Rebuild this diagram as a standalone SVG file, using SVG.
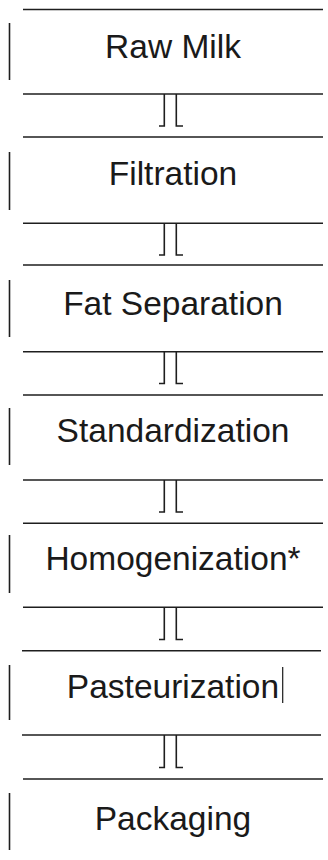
<svg xmlns="http://www.w3.org/2000/svg" width="328" height="860" viewBox="0 0 328 860">
<style>
.bg{fill:#ffffff}
.hl{stroke:#1e1e1e;stroke-width:1.5;fill:none}
.bar{stroke:#1e1e1e;stroke-width:1.6;fill:none}
.lbl{font-family:"Liberation Sans",Arial,sans-serif;font-size:33.5px;fill:#1a1a1a;text-anchor:middle}
.con{stroke:#1e1e1e;stroke-width:1.6;fill:none}
.cur{stroke:#1a1a1a;stroke-width:1.2}
</style>
<rect class="bg" x="0" y="0" width="328" height="860"/>
<g id="node-raw-milk">
<line class="hl" x1="23" y1="9.5" x2="323" y2="9.5"/>
<line class="bar" x1="9.5" y1="23" x2="9.5" y2="80"/>
<text class="lbl" x="173" y="58">Raw Milk</text>
<line class="hl" x1="23" y1="94" x2="323" y2="94"/>
</g>
<g id="node-filtration">
<line class="hl" x1="23" y1="137" x2="323" y2="137"/>
<line class="bar" x1="9.5" y1="152" x2="9.5" y2="210"/>
<text class="lbl" x="173" y="185">Filtration</text>
<line class="hl" x1="23" y1="223.3" x2="323" y2="223.3"/>
</g>
<g id="node-fat-separation">
<line class="hl" x1="23" y1="265" x2="323" y2="265"/>
<line class="bar" x1="9.5" y1="280" x2="9.5" y2="337"/>
<text class="lbl" x="173" y="315">Fat Separation</text>
<line class="hl" x1="23" y1="351.7" x2="323" y2="351.7"/>
</g>
<g id="node-standardization">
<line class="hl" x1="23" y1="395" x2="323" y2="395"/>
<line class="bar" x1="9.5" y1="408" x2="9.5" y2="465"/>
<text class="lbl" x="173" y="442">Standardization</text>
<line class="hl" x1="23" y1="480" x2="323" y2="480"/>
</g>
<g id="node-homogenization">
<line class="hl" x1="23" y1="523.3" x2="323" y2="523.3"/>
<line class="bar" x1="9.5" y1="535" x2="9.5" y2="593"/>
<text class="lbl" x="173" y="570">Homogenization*</text>
<line class="hl" x1="23" y1="607.3" x2="323" y2="607.3"/>
</g>
<g id="node-pasteurization">
<line class="hl" x1="22" y1="650.7" x2="321" y2="650.7"/>
<line class="bar" x1="9.5" y1="665" x2="9.5" y2="720"/>
<text class="lbl" x="173" y="698">Pasteurization</text>
<line class="cur" x1="282.7" y1="667" x2="282.7" y2="703"/>
<line class="hl" x1="22" y1="735" x2="321" y2="735"/>
</g>
<g id="node-packaging">
<line class="hl" x1="23" y1="779" x2="323" y2="779"/>
<line class="bar" x1="9.5" y1="793" x2="9.5" y2="850"/>
<text class="lbl" x="173" y="830">Packaging</text>
</g>
<g id="connectors">
<path class="con" d="M164.3 94 V126 H159 M176.3 94 V126 H183"/>
<path class="con" d="M164.3 223.3 V255 H159 M176.3 223.3 V255 H183"/>
<path class="con" d="M164.3 351.7 V383.5 H159 M176.3 351.7 V383.5 H183"/>
<path class="con" d="M164.3 480 V512 H159 M176.3 480 V512 H183"/>
<path class="con" d="M164.3 607.3 V639.5 H159 M176.3 607.3 V639.5 H183"/>
<path class="con" d="M164.3 735 V767.5 H159 M176.3 735 V767.5 H183"/>
</g>
</svg>
